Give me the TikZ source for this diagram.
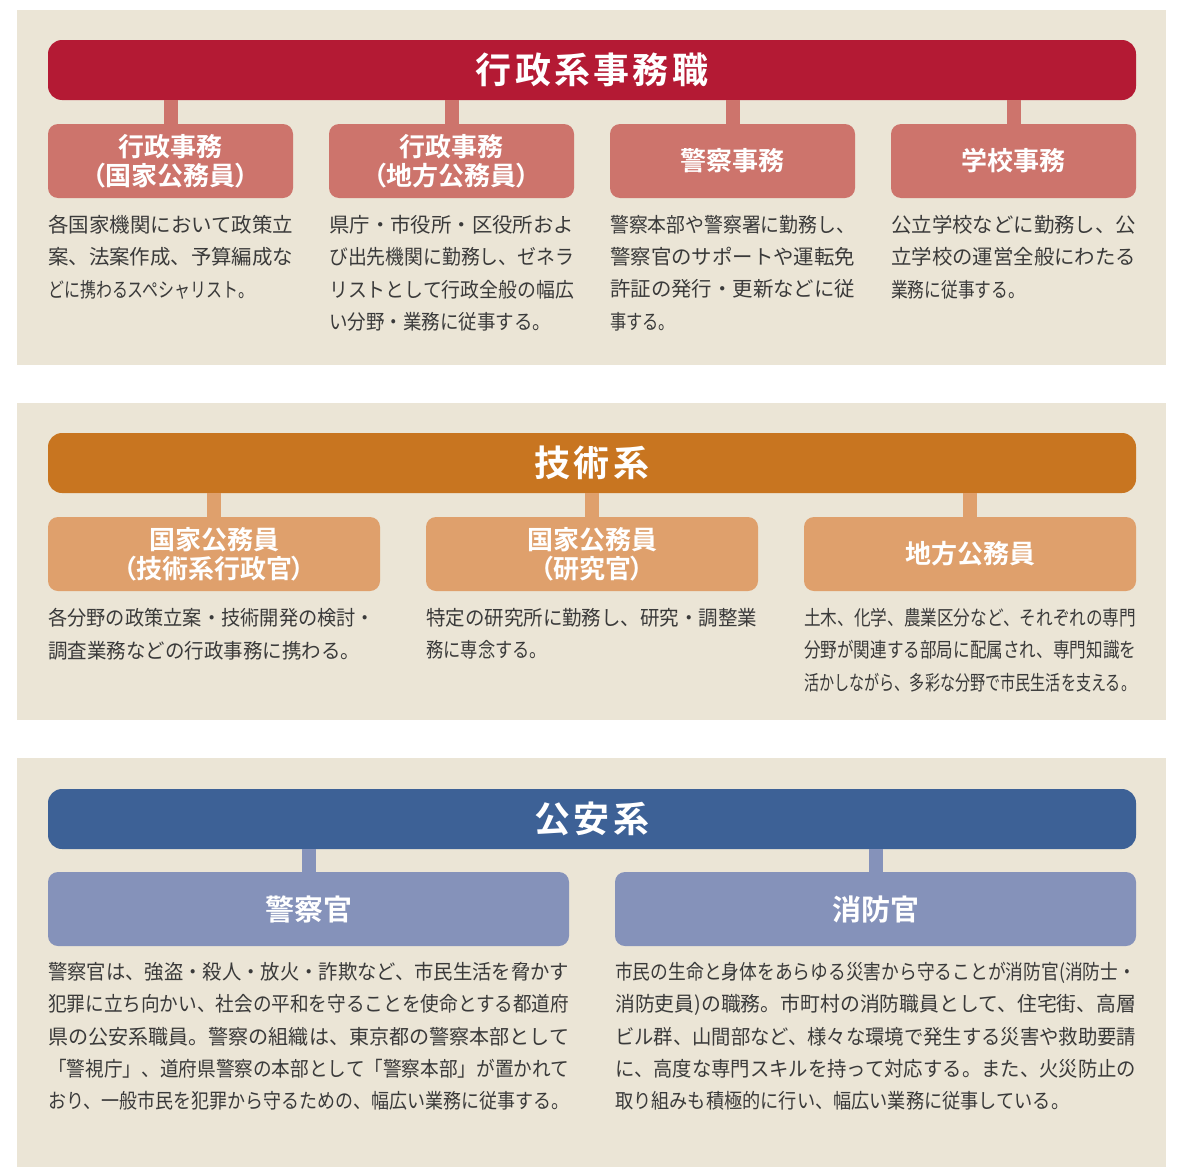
\documentclass[tikz,border=0pt]{standalone}
\usepackage{graphicx}
\usepackage{fontspec}
\newfontfamily\jpfont{Noto Sans CJK JP}
\newfontfamily\jpsub[RawFeature=+palt]{Noto Sans CJK JP Bold}
\newfontfamily\jphead[LetterSpace=9]{Noto Sans CJK JP Bold}

\definecolor{beige}{HTML}{EBE5D6}
\definecolor{txtgray}{HTML}{3A3A3A}
\definecolor{redhead}{HTML}{B41A34}
\definecolor{redsub}{HTML}{CD746C}
\definecolor{orghead}{HTML}{C87520}
\definecolor{orgsub}{HTML}{DFA06C}
\definecolor{bluhead}{HTML}{3D6196}
\definecolor{blusub}{HTML}{8592BA}

% one text line squeezed to a given width (pt)
\newcommand{\fitline}[2]{\resizebox{#1pt}{\height}{#2}}

\tikzset{
  panel/.style={fill=beige,draw=none},
  headbar/.style={fill=#1,rounded corners=14pt,text=white,inner sep=0pt,
    minimum height=60pt,font=\jphead\fontsize{36}{40}\selectfont},
  subbox/.style={fill=#1,rounded corners=10pt,text=white,inner sep=0pt,
    minimum height=74pt,align=center,font=\jpsub\fontsize{26}{29}\selectfont},
  link/.style={draw=#1,line width=14pt},
  desc/.style={anchor=north west,align=left,inner sep=0pt,text=txtgray,
    font=\jpfont\fontsize{20.4}{32.3}\selectfont}
}

\begin{document}
\begin{tikzpicture}[x=1pt,y=-1pt]
\useasboundingbox (0,0) rectangle (1178,1167);

%draws background panels
\fill[white] (0,0) rectangle (1178,1167);
\draw[panel] (17,10) rectangle (1166,365);
\draw[panel] (17,403) rectangle (1166,720);
\draw[panel] (17,758) rectangle (1166,1167);

%行政系事務職
\node[headbar=redhead,minimum width=1088pt] (gyo) at (592,70) {行政系事務職};
\node[subbox=redsub,minimum width=245pt] (gyo1) at (170.5,161) {行政事務\\（国家公務員）};
\node[subbox=redsub,minimum width=245pt] (gyo2) at (451.5,161) {行政事務\\（地方公務員）};
\node[subbox=redsub,minimum width=245pt] (gyo3) at (732.5,161) {警察事務};
\node[subbox=redsub,minimum width=245pt] (gyo4) at (1013.5,161) {学校事務};
\foreach \b in {gyo1,gyo2,gyo3,gyo4}
    \draw[link=redsub] (gyo.south -| \b.north) -- (\b.north);

\node[desc] (gyo1t) at (48,215) {\fitline{245}{各国家機関において政策立}\\
  \fitline{245}{案、法案作成、予算編成な}\\\fitline{206}{どに携わるスペシャリスト。}};
\node[desc] (gyo2t) at (329,215) {\fitline{245}{県庁・市役所・区役所およ}\\
  \fitline{245}{び出先機関に勤務し、ゼネラ}\\\fitline{245}{リストとして行政全般の幅広}\\
  \fitline{222}{い分野・業務に従事する。}};
\node[desc] (gyo3t) at (610,215) {\fitline{245}{警察本部や警察署に勤務し、}\\
  \fitline{245}{警察官のサポートや運転免}\\\fitline{245}{許証の発行・更新などに従}\\
  \fitline{65}{事する。}};
\node[desc] (gyo4t) at (891,215) {\fitline{245}{公立学校などに勤務し、公}\\
  \fitline{245}{立学校の運営全般にわたる}\\\fitline{134}{業務に従事する。}};

%技術系
\node[headbar=orghead,minimum width=1088pt] (gij) at (592,463) {技術系};
\node[subbox=orgsub,minimum width=332pt] (gij1) at (214,554) {国家公務員\\（技術系行政官）};
\node[subbox=orgsub,minimum width=332pt] (gij2) at (592,554) {国家公務員\\（研究官）};
\node[subbox=orgsub,minimum width=332pt] (gij3) at (970,554) {地方公務員};
\foreach \b in {gij1,gij2,gij3}
    \draw[link=orgsub] (gij.south -| \b.north) -- (\b.north);

\node[desc,font=\jpfont\fontsize{20.4}{32.5}\selectfont] (gij1t) at (48,608) {\fitline{327}{各分野の政策立案・技術開発の検討・}\\
  \fitline{312}{調査業務などの行政事務に携わる。}};
\node[desc,font=\jpfont\fontsize{20.4}{32.5}\selectfont] (gij2t) at (426,608) {\fitline{331}{特定の研究所に勤務し、研究・調整業}\\
  \fitline{121}{務に専念する。}};
\node[desc,font=\jpfont\fontsize{20.4}{32.5}\selectfont] (gij3t) at (804,608) {\fitline{332}{土木、化学、農業区分など、それぞれの専門}\\
  \fitline{332}{分野が関連する部局に配属され、専門知識を}\\\fitline{332}{活かしながら、多彩な分野で市民生活を支える。}};

%公安系
\node[headbar=bluhead,minimum width=1088pt] (koa) at (592,819) {公安系};
\node[subbox=blusub,minimum width=521pt,font=\jpsub\fontsize{29}{32}\selectfont] (koa1) at (308.5,909) {警察官};
\node[subbox=blusub,minimum width=521pt,font=\jpsub\fontsize{29}{32}\selectfont] (koa2) at (875.5,909) {消防官};
\foreach \b in {koa1,koa2}
    \draw[link=blusub] (koa.south -| \b.north) -- (\b.north);

\node[desc] (koa1t) at (48,962) {\fitline{521}{警察官は、強盗・殺人・放火・詐欺など、市民生活を脅かす}\\
  \fitline{521}{犯罪に立ち向かい、社会の平和を守ることを使命とする都道府}\\
  \fitline{521}{県の公安系職員。警察の組織は、東京都の警察本部として}\\
  \fitline{521}{「警視庁」、道府県警察の本部として「警察本部」が置かれて}\\
  \fitline{521}{おり、一般市民を犯罪から守るための、幅広い業務に従事する。}};
\node[desc] (koa2t) at (615,962) {\fitline{521}{市民の生命と身体をあらゆる災害から守ることが消防官(消防士・}\\
  \fitline{521}{消防吏員)の職務。市町村の消防職員として、住宅街、高層}\\
  \fitline{521}{ビル群、山間部など、様々な環境で発生する災害や救助要請}\\
  \fitline{521}{に、高度な専門スキルを持って対応する。また、火災防止の}\\
  \fitline{454}{取り組みも積極的に行い、幅広い業務に従事している。}};
\end{tikzpicture}
\end{document}
